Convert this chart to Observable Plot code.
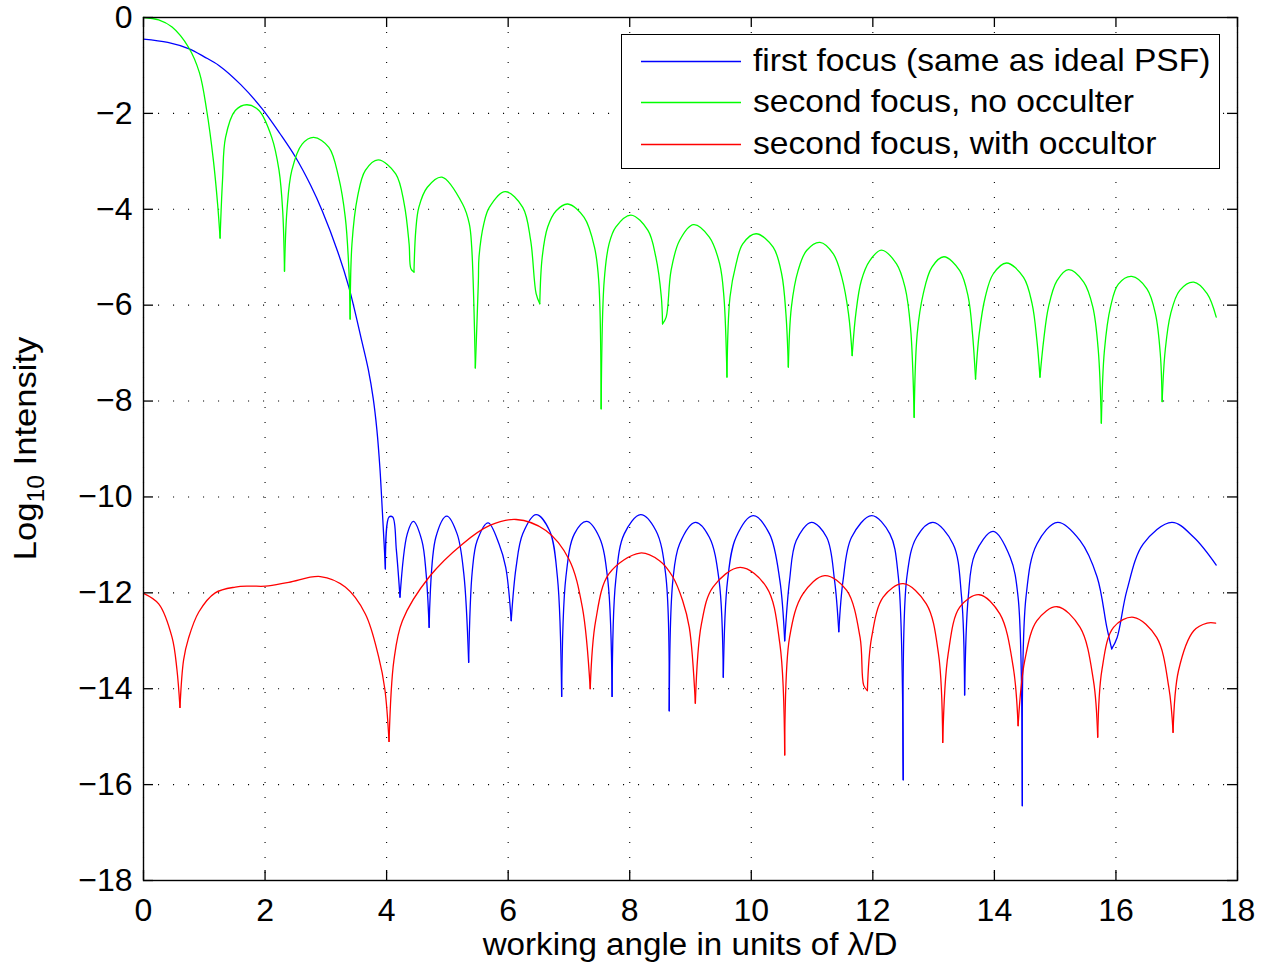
<!DOCTYPE html>
<html>
<head>
<meta charset="utf-8">
<script src="https://cdn.jsdelivr.net/npm/d3@7"></script>
<script src="https://cdn.jsdelivr.net/npm/@observablehq/plot@0.6"></script>
<style>
  body { margin: 0; background: #fff; }
  #wrap { position: relative; width: 1261px; height: 969px; font-family: "Liberation Sans", Arial, Helvetica, sans-serif; }
  #legend { position: absolute; left: 621px; top: 34px; width: 599px; height: 135px; border: 1.6px solid #000; background: #fff; box-sizing: border-box; }
  .row { position: absolute; left: 0; height: 40px; display: flex; align-items: center; font-size: 32px; color: #000; white-space: nowrap; }
  .sw { display: block; width: 100px; height: 20px; margin-left: 18.5px; margin-right: 12px; }
  .lt { display: inline-block; transform: scaleX(1.05); transform-origin: left center; }
</style>
</head>
<body>
<div id="wrap"></div>
<script>
// ---- data ----
const xTicks = [0, 2, 4, 6, 8, 10, 12, 14, 16, 18];
const yTicks = [0, -2, -4, -6, -8, -10, -12, -14, -16, -18];
const xLabel = "working angle in units of λ/D";
const yLabelMain = "Log";
const yLabelSub = "10";
const yLabelRest = " Intensity";

const seriesNames = ["first focus (same as ideal PSF)", "second focus, no occulter", "second focus, with occultor"];
const seriesColors = ["#0000ff", "#00ff00", "#ff0000"];

// first focus (blue)
const blueX = [0.00,0.40,0.74,1.00,1.24,1.60,1.95,2.25,2.50,2.75,2.94,3.20,3.38,3.59,3.70,3.78,3.84,3.89,3.93,3.96,3.98,
  4.04,4.10,4.16,4.22,4.34,4.44,4.58,4.65,4.70,4.81,4.99,5.16,5.27,5.35,5.41,5.49,5.67,5.85,5.96,6.05,6.13,6.24,6.46,6.68,6.81,6.88,
  6.95,7.09,7.29,7.50,7.64,7.71,7.77,7.91,8.18,8.43,8.59,8.65,8.71,8.82,9.08,9.31,9.47,9.54,9.61,9.75,10.03,10.30,10.47,10.55,
  10.63,10.74,10.99,11.24,11.37,11.44,11.51,11.65,11.98,12.28,12.42,12.50,12.56,12.72,12.99,13.32,13.46,13.51,13.57,13.68,13.98,
  14.26,14.39,14.46,14.52,14.70,15.04,15.41,15.69,15.85,15.93,16.02,16.18,16.45,16.92,17.28,17.65];
const blueY = [-0.45,-0.52,-0.65,-0.82,-1.00,-1.40,-1.90,-2.43,-2.91,-3.50,-4.03,-4.90,-5.63,-6.74,-7.35,-7.95,-8.60,-9.40,-10.30,-11.00,-11.50,
  -10.42,-10.42,-11.10,-12.09,-10.77,-10.51,-10.91,-11.60,-12.72,-10.84,-10.40,-10.77,-11.60,-13.45,-11.54,-10.91,-10.54,-10.98,-11.47,-12.58,-11.47,-10.77,-10.37,-10.70,-11.67,-14.16,
  -11.67,-10.77,-10.51,-10.84,-11.74,-14.16,-11.74,-10.77,-10.37,-10.70,-11.60,-14.46,-11.74,-10.98,-10.53,-10.84,-11.74,-13.76,-11.74,-10.84,-10.39,-10.77,-11.74,-13.00,
  -11.74,-10.91,-10.53,-10.84,-11.74,-12.81,-11.74,-10.84,-10.39,-10.77,-11.67,-15.90,-11.67,-10.84,-10.53,-10.98,-12.09,-14.13,-12.09,-11.19,-10.72,
  -11.26,-12.09,-16.44,-12.09,-10.98,-10.53,-10.91,-11.67,-12.72,-13.17,-12.93,-11.95,-10.98,-10.53,-10.84,-11.42];

// second focus, no occulter (green)
const greenX = [0.00,0.25,0.47,0.74,0.92,1.04,1.15,1.22,1.26,1.30,1.35,1.51,1.70,1.90,2.11,2.23,2.29,2.32,
  2.36,2.44,2.61,2.80,3.05,3.21,3.32,3.38,3.40,3.43,3.52,3.65,3.86,4.15,4.29,4.37,4.40,4.45,
  4.48,4.53,4.67,4.91,5.25,5.36,5.40,5.46,5.51,5.52,5.60,5.69,5.95,6.24,6.37,6.46,6.52,
  6.56,6.65,6.79,6.98,7.25,7.42,7.49,7.53,7.58,7.66,7.77,8.02,8.30,8.43,8.52,8.54,
  8.60,8.68,8.82,9.05,9.31,9.48,9.55,9.60,9.65,9.75,9.86,10.08,10.36,10.50,10.57,10.61,
  10.66,10.77,10.91,11.13,11.35,11.49,11.60,11.66,11.72,11.81,11.95,12.14,12.39,12.53,12.62,12.68,
  12.73,12.83,12.97,13.17,13.43,13.57,13.64,13.69,13.75,13.85,13.98,14.20,14.48,14.62,14.70,14.75,
  14.81,14.89,15.03,15.22,15.47,15.62,15.71,15.76,15.81,15.91,16.04,16.26,16.51,16.65,16.73,16.76,
  16.81,16.90,17.05,17.28,17.50,17.65];
const greenY = [0.00,-0.05,-0.20,-0.62,-1.15,-1.94,-2.98,-3.90,-4.60,-3.40,-2.50,-1.94,-1.82,-1.94,-2.50,-3.19,-4.03,-5.29,
  -4.03,-3.19,-2.64,-2.50,-2.71,-3.33,-4.17,-5.28,-6.29,-4.72,-3.75,-3.19,-2.97,-3.26,-3.89,-4.72,-5.24,-5.31,
  -4.44,-3.96,-3.54,-3.33,-3.89,-4.30,-4.79,-7.31,-5.49,-5.00,-4.30,-3.96,-3.63,-3.96,-4.65,-5.76,-5.97,
  -5.00,-4.37,-4.03,-3.89,-4.17,-4.79,-5.49,-8.16,-5.49,-4.72,-4.37,-4.12,-4.44,-5.00,-5.83,-6.39,
  -6.25,-5.28,-4.65,-4.32,-4.58,-5.14,-5.83,-7.50,-5.83,-5.14,-4.72,-4.51,-4.79,-5.35,-6.18,-7.29,
  -6.04,-5.28,-4.86,-4.69,-4.93,-5.42,-6.18,-7.05,-6.18,-5.49,-5.07,-4.85,-5.14,-5.63,-6.46,-8.34,
  -6.60,-5.76,-5.21,-4.99,-5.28,-5.83,-6.60,-7.54,-6.60,-5.83,-5.35,-5.12,-5.42,-5.97,-6.74,-7.50,
  -6.74,-6.04,-5.49,-5.26,-5.52,-6.04,-6.95,-8.46,-6.95,-6.04,-5.56,-5.40,-5.66,-6.18,-7.02,-8.01,
  -6.95,-6.18,-5.69,-5.52,-5.76,-6.25];

// second focus, with occultor (red)
const redX = [0.00,0.25,0.47,0.55,0.60,0.66,0.74,0.91,1.18,1.51,1.75,2.01,2.39,2.91,3.32,3.65,3.87,3.97,4.04,
  4.12,4.26,4.70,5.25,5.69,6.13,6.62,7.00,7.22,7.35,7.44,7.66,8.17,8.49,8.71,8.87,8.98,9.08,
  9.18,9.37,9.82,10.25,10.47,10.55,10.63,10.85,11.21,11.57,11.79,11.85,11.91,11.98,12.17,12.50,12.88,13.08,13.15,
  13.24,13.43,13.75,14.09,14.31,14.39,14.50,14.70,15.03,15.41,15.63,15.70,15.77,15.96,16.29,16.67,16.87,16.94,
  17.03,17.28,17.50,17.64];
const redY = [-12.01,-12.23,-12.93,-13.60,-14.39,-13.40,-12.95,-12.40,-12.00,-11.88,-11.86,-11.86,-11.78,-11.66,-11.88,-12.44,-13.34,-14.00,-15.10,
  -13.41,-12.58,-11.67,-10.98,-10.60,-10.47,-10.70,-11.30,-12.30,-14.00,-12.58,-11.60,-11.17,-11.33,-11.67,-12.16,-12.72,-14.30,
  -12.65,-11.88,-11.47,-11.88,-13.06,-15.38,-12.93,-12.02,-11.64,-11.95,-12.93,-13.93,-14.04,-12.93,-12.09,-11.81,-12.23,-13.27,-15.12,
  -13.27,-12.30,-12.04,-12.44,-13.55,-14.77,-13.41,-12.58,-12.29,-12.72,-13.83,-15.01,-13.60,-12.72,-12.51,-12.93,-13.97,-14.91,
  -13.62,-12.79,-12.63,-12.63];

// ---- build rows: each series is split into arches at its nulls so the dips stay sharp ----
function arches(name, xs, ys) {
  const out = [];
  let seg = 0;
  for (let i = 0; i < xs.length; i++) {
    out.push({ series: name, key: name + "|" + seg, x: xs[i], y: ys[i] });
    const isNull = i > 0 && i < xs.length - 1 && ys[i] < ys[i - 1] && ys[i] < ys[i + 1];
    if (isNull) {
      seg++;
      out.push({ series: name, key: name + "|" + seg, x: xs[i], y: ys[i] });
    }
  }
  return out;
}
const rows = [
  ...arches(seriesNames[0], blueX, blueY),
  ...arches(seriesNames[1], greenX, greenY),
  ...arches(seriesNames[2], redX, redY)
];

const W = 1261, H = 969, mL = 143, mR = 24, mT = 17, mB = 89;
const pw = W - mL - mR, ph = H - mT - mB;
const FONT = "Liberation Sans, Arial, Helvetica, sans-serif";
const FS = 32;

const chart = Plot.plot({
  width: W, height: H,
  marginLeft: mL, marginRight: mR, marginTop: mT, marginBottom: mB,
  style: { fontFamily: FONT, fontSize: FS + "px", color: "black", background: "white", overflow: "visible" },
  x: { domain: [0, 18] },
  y: { domain: [-18, 0] },
  color: { domain: seriesNames, range: seriesColors },
  marks: [
    Plot.gridX(xTicks, { stroke: "black", strokeOpacity: 1, strokeWidth: 1.1, strokeDasharray: "1.1,13.9" }),
    Plot.gridY(yTicks, { stroke: "black", strokeOpacity: 1, strokeWidth: 1.1, strokeDasharray: "1.1,13.9" }),
    Plot.line(rows, { x: "x", y: "y", z: "key", stroke: "series", strokeWidth: 1.3, curve: "catmull-rom" }),
    Plot.tickX(xTicks, { x: d => d, stroke: "black", strokeWidth: 1.3, insetTop: ph - 10 }),
    Plot.tickX(xTicks, { x: d => d, stroke: "black", strokeWidth: 1.3, insetBottom: ph - 10 }),
    Plot.tickY(yTicks, { y: d => d, stroke: "black", strokeWidth: 1.3, insetRight: pw - 10 }),
    Plot.tickY(yTicks, { y: d => d, stroke: "black", strokeWidth: 1.3, insetLeft: pw - 10 }),
    Plot.axisX(xTicks, { tickSize: 0, tickPadding: 18, label: null, fontSize: FS }),
    Plot.axisY(yTicks, { tickSize: 0, tickPadding: 11, label: null, fontSize: FS }),
    Plot.frame({ stroke: "black", strokeWidth: 1.4 })
  ]
});

const svg = d3.select(chart);
svg.append("text")
  .attr("transform", `translate(${mL + pw / 2},955) scale(1.07,1)`)
  .attr("text-anchor", "middle").attr("font-size", 31).attr("font-family", FONT).attr("fill", "black")
  .text(xLabel);
const yl = svg.append("text")
  .attr("transform", `translate(36,${mT + ph / 2}) rotate(-90) scale(1.08,1)`)
  .attr("text-anchor", "middle").attr("font-size", FS).attr("font-family", FONT).attr("fill", "black");
yl.append("tspan").text(yLabelMain);
yl.append("tspan").attr("font-size", 23).attr("dy", 8).text(yLabelSub);
yl.append("tspan").attr("dy", -8).text(yLabelRest);

const wrap = document.getElementById("wrap");
wrap.appendChild(chart);

// legend (inside the axes, top right)
const legend = document.createElement("div");
legend.id = "legend";
const rowTops = [5.5, 46.5, 88.5];
const SVGNS = "http://www.w3.org/2000/svg";
seriesNames.forEach((name, i) => {
  const r = document.createElement("div");
  r.className = "row";
  r.style.top = rowTops[i] + "px";
  const sw = document.createElementNS(SVGNS, "svg");
  sw.setAttribute("class", "sw");
  sw.setAttribute("width", "100");
  sw.setAttribute("height", "20");
  const ln = document.createElementNS(SVGNS, "line");
  ln.setAttribute("x1", "0"); ln.setAttribute("x2", "100");
  ln.setAttribute("y1", "10.5"); ln.setAttribute("y2", "10.5");
  ln.setAttribute("stroke", seriesColors[i]);
  ln.setAttribute("stroke-width", "1.6");
  sw.appendChild(ln);
  const t = document.createElement("span");
  t.className = "lt";
  t.textContent = name;
  r.appendChild(sw);
  r.appendChild(t);
  legend.appendChild(r);
});
wrap.appendChild(legend);
</script>
</body>
</html>
